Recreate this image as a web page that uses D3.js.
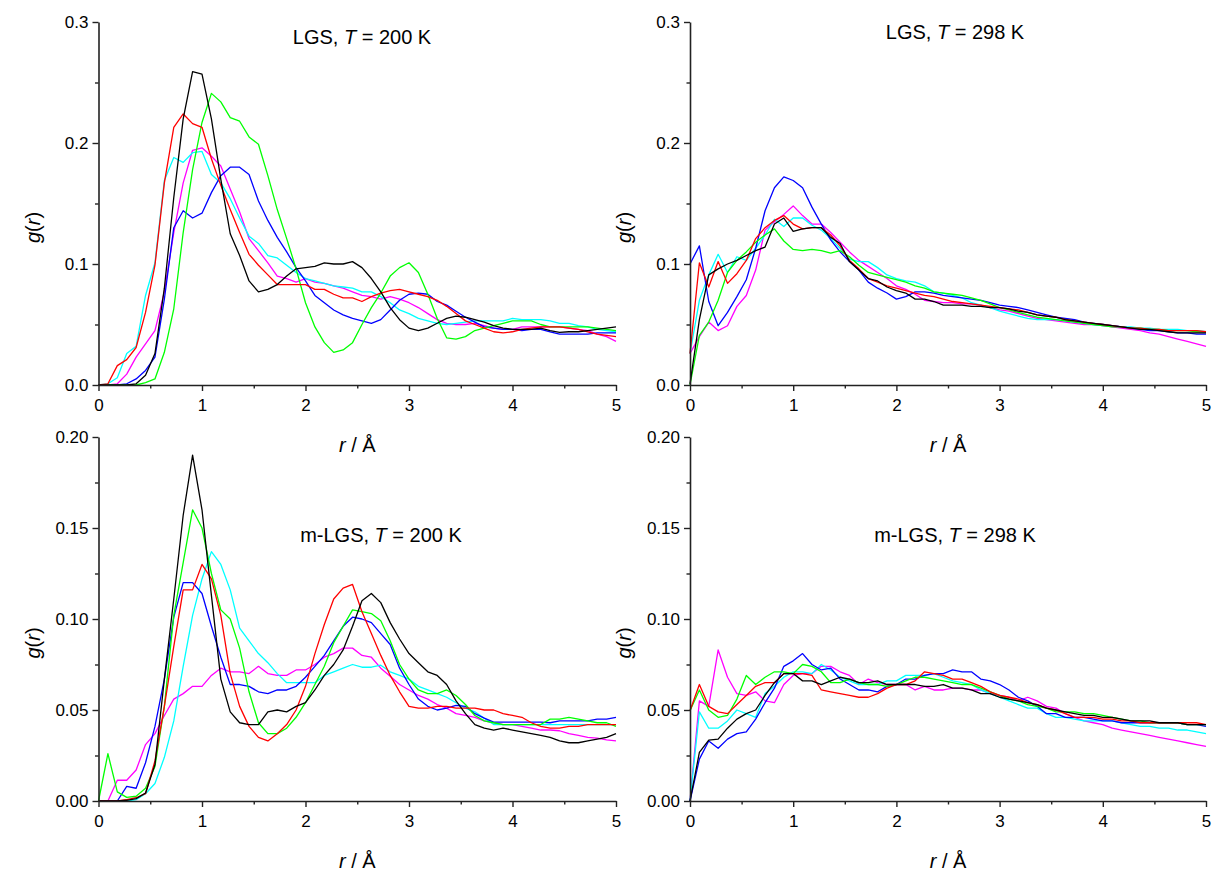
<!DOCTYPE html>
<html>
<head>
<meta charset="utf-8">
<script src="https://cdn.jsdelivr.net/npm/d3@7"></script>
<style>
  html, body { margin: 0; padding: 0; background: #fff; }
  svg { display: block; }
  text { font-family: "Liberation Sans", Arial, sans-serif; fill: #000; }
</style>
</head>
<body>
<svg id="chart" width="1216" height="874"></svg>
<script>
// r grid (Å)
const r = [0, 0.0909, 0.1818, 0.2727, 0.3636, 0.4545, 0.5455, 0.6364, 0.7273, 0.8182,
  0.9091, 1.0, 1.0909, 1.1818, 1.2727, 1.3636, 1.4545, 1.5455, 1.6364, 1.7273,
  1.8182, 1.9091, 2.0, 2.0909, 2.1818, 2.2727, 2.3636, 2.4545, 2.5455, 2.6364,
  2.7273, 2.8182, 2.9091, 3.0, 3.0909, 3.1818, 3.2727, 3.3636, 3.4545, 3.5455,
  3.6364, 3.7273, 3.8182, 3.9091, 4.0, 4.0909, 4.1818, 4.2727, 4.3636, 4.4545,
  4.5455, 4.6364, 4.7273, 4.8182, 4.9091, 5.0];

const seriesColors = ["#ff00ff", "#00ffff", "#0000ff", "#00ff00", "#ff0000", "#000000"];
const seriesNames = ["magenta", "cyan", "blue", "green", "red", "black"];

// ---- LGS, T = 200 K ----
const lgs200_black = [0,0,0,0,0.001,0.008,0.026,0.08,0.155,0.22,
  0.259,0.257,0.22,0.17,0.125,0.107,0.086,0.077,0.079,0.083,
  0.090,0.096,0.097,0.098,0.101,0.100,0.100,0.102,
  0.097,0.088,0.077,0.064,0.054,0.047,0.045,0.047,0.051,0.055,
  0.057,0.056,0.054,0.052,0.049,0.047,0.046,0.046,0.046,0.047,
  0.045,0.0435,0.044,0.044,0.045,0.046,0.047,0.048];
const lgs200_red = [0,0.001,0.016,0.021,0.031,0.060,0.099,0.167,0.213,0.224,
  0.216,0.213,0.187,0.165,0.145,0.126,0.108,0.099,0.091,0.083,
  0.083,0.083,0.083,0.079,0.079,0.075,0.072,0.072,
  0.069,0.073,0.076,0.078,0.079,0.077,0.075,0.073,0.070,0.065,
  0.059,0.053,0.050,0.047,0.044,0.043,0.044,0.046,0.047,0.048,
  0.048,0.048,0.047,0.046,0.044,0.042,0.041,0.040];
const lgs200_green = [0,0,0,0,0,0.002,0.005,0.027,0.063,0.126,
  0.178,0.217,0.241,0.234,0.221,0.218,0.205,0.199,0.173,0.145,
  0.121,0.096,0.068,0.048,0.035,0.027,0.029,0.035,
  0.050,0.064,0.076,0.090,0.097,0.101,0.093,0.075,0.055,0.039,
  0.038,0.040,0.045,0.047,0.049,0.051,0.053,0.053,0.053,0.050,
  0.048,0.048,0.048,0.048,0.048,0.047,0.046,0.045];
const lgs200_blue = [0,0,0,0.001,0.005,0.012,0.023,0.071,0.130,0.144,
  0.138,0.142,0.159,0.173,0.180,0.180,0.174,0.152,0.136,0.122,
  0.110,0.097,0.086,0.074,0.068,0.062,0.058,0.055,
  0.053,0.051,0.054,0.062,0.070,0.075,0.076,0.075,0.069,0.066,
  0.061,0.056,0.052,0.048,0.047,0.046,0.046,0.045,0.046,0.046,
  0.044,0.042,0.042,0.042,0.042,0.043,0.043,0.043];
const lgs200_cyan = [0,0.001,0.006,0.026,0.032,0.074,0.101,0.169,0.188,0.184,
  0.192,0.193,0.174,0.167,0.154,0.138,0.123,0.117,0.107,0.105,
  0.099,0.093,0.088,0.086,0.084,0.082,0.081,0.080,
  0.077,0.077,0.073,0.068,0.062,0.059,0.055,0.053,0.051,0.050,
  0.051,0.052,0.053,0.053,0.053,0.053,0.055,0.054,0.054,0.054,
  0.053,0.051,0.051,0.049,0.048,0.046,0.045,0.044];
const lgs200_magenta = [0,0,0.001,0.009,0.023,0.034,0.045,0.077,0.126,0.167,
  0.194,0.196,0.189,0.181,0.162,0.143,0.121,0.111,0.101,0.090,
  0.088,0.085,0.088,0.085,0.084,0.082,0.080,0.077,
  0.074,0.073,0.071,0.073,0.071,0.068,0.064,0.059,0.054,0.051,
  0.050,0.050,0.051,0.049,0.047,0.046,0.046,0.048,0.048,0.048,
  0.048,0.048,0.047,0.046,0.045,0.042,0.040,0.036];

// ---- LGS, T = 298 K ----
const lgs298_black = [0.001,0.054,0.091,0.096,0.100,0.103,0.107,0.111,0.114,0.133,
  0.138,0.127,0.129,0.130,0.130,0.122,0.117,0.102,0.095,0.088,
  0.086,0.081,0.078,0.076,0.071,0.071,0.069,0.066,
  0.066,0.066,0.065,0.065,0.064,0.064,0.063,0.061,0.060,0.058,
  0.057,0.056,0.054,0.053,0.052,0.051,0.050,0.049,0.048,0.047,
  0.046,0.046,0.045,0.044,0.043,0.043,0.043,0.043];
const lgs298_red = [0.026,0.101,0.081,0.102,0.084,0.092,0.103,0.121,0.130,0.136,
  0.140,0.133,0.129,0.130,0.130,0.124,0.115,0.103,0.096,0.088,
  0.085,0.082,0.080,0.078,0.076,0.074,0.073,0.071,
  0.069,0.068,0.067,0.066,0.065,0.064,0.063,0.062,0.060,0.058,
  0.057,0.056,0.054,0.053,0.052,0.051,0.050,0.049,0.048,0.047,
  0.047,0.046,0.046,0.045,0.045,0.045,0.045,0.044];
const lgs298_green = [0,0.041,0.052,0.070,0.093,0.103,0.110,0.118,0.124,0.129,
  0.119,0.112,0.111,0.112,0.111,0.109,0.111,0.106,0.099,0.093,
  0.091,0.089,0.087,0.085,0.082,0.080,0.077,0.076,
  0.075,0.074,0.072,0.070,0.067,0.064,0.062,0.060,0.058,0.056,
  0.055,0.054,0.053,0.052,0.051,0.050,0.049,0.048,0.048,0.047,
  0.047,0.046,0.046,0.045,0.045,0.045,0.044,0.044];
const lgs298_blue = [0.100,0.115,0.069,0.049,0.060,0.073,0.087,0.113,0.144,0.163,
  0.172,0.169,0.163,0.147,0.133,0.120,0.110,0.102,0.095,0.085,
  0.080,0.076,0.071,0.073,0.077,0.077,0.076,0.074,
  0.073,0.072,0.071,0.070,0.068,0.066,0.065,0.064,0.062,0.060,
  0.058,0.056,0.055,0.054,0.052,0.051,0.050,0.049,0.048,0.047,
  0.046,0.045,0.045,0.044,0.043,0.043,0.042,0.042];
const lgs298_cyan = [0.026,0.070,0.091,0.108,0.093,0.106,0.103,0.113,0.124,0.137,
  0.131,0.138,0.138,0.132,0.128,0.121,0.113,0.104,0.102,0.102,
  0.097,0.091,0.088,0.086,0.085,0.082,0.077,0.076,
  0.074,0.072,0.068,0.066,0.064,0.061,0.059,0.057,0.055,0.054,
  0.054,0.054,0.053,0.052,0.051,0.050,0.049,0.049,0.048,0.048,
  0.047,0.047,0.046,0.046,0.046,0.045,0.045,0.044];
const lgs298_magenta = [0.026,0.040,0.052,0.045,0.049,0.065,0.074,0.095,0.128,0.135,
  0.141,0.148,0.140,0.133,0.133,0.126,0.118,0.110,0.103,0.098,
  0.093,0.088,0.082,0.079,0.075,0.070,0.069,0.068,
  0.068,0.067,0.067,0.066,0.064,0.062,0.061,0.059,0.057,0.055,
  0.054,0.053,0.052,0.051,0.050,0.050,
  0.049,0.048,0.047,0.046,0.045,0.043,0.042,0.040,0.038,0.036,0.034,0.032];

// ---- m-LGS, T = 200 K ----
const mlgs200_black = [0,0,0,0.0004,0.0013,0.0044,0.020,0.067,0.111,0.157,
  0.190,0.160,0.113,0.067,0.049,0.043,0.042,0.042,0.049,0.050,
  0.049,0.052,0.054,0.061,0.069,0.075,0.083,0.096,
  0.110,0.114,0.109,0.098,0.089,0.081,0.076,0.071,0.069,0.064,
  0.055,0.048,0.042,0.040,0.039,0.040,0.039,0.038,0.037,0.036,
  0.035,0.033,0.032,0.032,0.033,0.034,0.035,0.037];
const mlgs200_red = [0,0,0,0.0007,0.0018,0.004,0.022,0.052,0.085,0.116,
  0.116,0.130,0.122,0.102,0.070,0.052,0.041,0.035,0.033,0.037,
  0.042,0.050,0.063,0.081,0.097,0.111,0.117,0.119,
  0.104,0.092,0.080,0.069,0.060,0.052,0.051,0.051,0.052,0.052,
  0.051,0.051,0.051,0.050,0.050,0.048,0.047,0.046,0.043,0.041,
  0.040,0.040,0.041,0.041,0.042,0.042,0.042,0.042];
const mlgs200_green = [0,0.026,0.005,0.002,0.0026,0.007,0.019,0.052,0.102,0.131,
  0.160,0.150,0.125,0.105,0.100,0.084,0.060,0.043,0.037,0.037,
  0.040,0.046,0.054,0.064,0.074,0.087,0.096,0.105,
  0.104,0.103,0.099,0.088,0.075,0.067,0.061,0.059,0.059,0.061,
  0.058,0.053,0.047,0.044,0.043,0.042,0.042,0.042,0.042,0.042,
  0.045,0.045,0.046,0.045,0.044,0.043,0.043,0.041];
const mlgs200_blue = [0,0,0,0.008,0.007,0.021,0.041,0.067,0.101,0.120,
  0.120,0.114,0.096,0.079,0.064,0.064,0.063,0.060,0.059,0.061,
  0.061,0.063,0.068,0.074,0.080,0.088,0.096,0.101,
  0.100,0.098,0.092,0.086,0.073,0.064,0.056,0.052,0.050,0.051,
  0.0525,0.052,0.048,0.0455,0.0433,0.0433,0.0433,0.0433,0.0433,0.0433,
  0.043,0.044,0.044,0.044,0.044,0.045,0.045,0.046];
const mlgs200_cyan = [0,0,0,0,0.0007,0.004,0.0096,0.024,0.044,0.074,
  0.102,0.122,0.137,0.130,0.116,0.095,0.088,0.081,0.076,0.070,
  0.065,0.065,0.065,0.065,0.069,0.071,0.073,0.075,
  0.0735,0.0735,0.0746,0.071,0.069,0.067,0.063,0.061,0.059,0.057,
  0.054,0.051,0.049,0.0455,0.042,0.042,0.042,0.042,0.042,0.042,
  0.042,0.042,0.042,0.042,0.042,0.042,0.042,0.042];
const mlgs200_magenta = [0,0,0.0114,0.0114,0.017,0.031,0.037,0.047,0.056,0.059,
  0.063,0.063,0.069,0.073,0.071,0.071,0.070,0.074,0.070,0.069,
  0.069,0.072,0.072,0.075,0.079,0.081,0.084,0.084,
  0.080,0.079,0.073,0.0685,0.064,0.061,0.058,0.056,0.053,0.051,
  0.048,0.047,0.046,0.044,0.043,0.042,0.042,0.041,0.040,0.039,
  0.039,0.0386,0.037,0.036,0.035,0.0345,0.0336,0.033];

// ---- m-LGS, T = 298 K ----
const mlgs298_black = [0,0.0267,0.0335,0.034,0.040,0.045,0.048,0.050,0.058,0.065,
  0.070,0.070,0.066,0.066,0.064,0.066,0.068,0.067,0.065,0.065,
  0.066,0.064,0.064,0.064,0.064,0.063,0.063,0.064,
  0.062,0.062,0.061,0.059,0.059,0.057,0.056,0.055,0.054,0.053,
  0.051,0.050,0.049,0.048,0.047,0.047,0.046,0.046,0.045,0.044,
  0.044,0.044,0.043,0.043,0.043,0.042,0.042,0.042];
const mlgs298_red = [0.0496,0.064,0.052,0.049,0.048,0.053,0.058,0.063,0.065,0.065,
  0.070,0.070,0.070,0.069,0.061,0.060,0.059,0.058,0.057,0.057,
  0.059,0.062,0.064,0.064,0.066,0.071,0.070,0.069,
  0.067,0.067,0.065,0.063,0.060,0.058,0.057,0.056,0.054,0.053,
  0.051,0.050,0.048,0.046,0.046,0.046,0.045,0.045,0.044,0.044,
  0.043,0.043,0.043,0.043,0.043,0.043,0.043,0.042];
const mlgs298_green = [0.0496,0.061,0.050,0.046,0.047,0.056,0.069,0.064,0.068,0.071,
  0.071,0.070,0.075,0.074,0.071,0.065,0.065,0.067,0.065,0.064,
  0.064,0.063,0.064,0.066,0.068,0.068,0.067,0.066,
  0.065,0.064,0.064,0.062,0.060,0.058,0.056,0.055,0.053,0.052,
  0.051,0.049,0.049,0.049,0.048,0.048,0.047,0.046,0.045,0.044,
  0.044,0.043,0.043,0.043,0.043,0.042,0.042,0.042];
const mlgs298_blue = [0,0.023,0.033,0.029,0.034,0.037,0.038,0.045,0.054,0.062,
  0.074,0.077,0.081,0.075,0.072,0.073,0.067,0.064,0.061,0.061,
  0.060,0.063,0.064,0.067,0.067,0.069,0.070,0.070,
  0.072,0.071,0.071,0.067,0.066,0.064,0.061,0.057,0.055,0.052,
  0.048,0.048,0.046,0.046,0.046,0.045,0.044,0.044,0.043,0.043,
  0.043,0.043,0.043,0.043,0.043,0.042,0.042,0.041];
const mlgs298_cyan = [0,0.049,0.040,0.040,0.044,0.050,0.048,0.046,0.059,0.063,
  0.068,0.071,0.071,0.070,0.075,0.072,0.068,0.066,0.064,0.064,
  0.064,0.066,0.066,0.069,0.069,0.069,0.070,0.068,
  0.066,0.065,0.064,0.061,0.059,0.057,0.055,0.053,0.051,0.051,
  0.048,0.046,0.046,0.045,0.044,0.044,0.044,0.044,0.043,0.042,
  0.041,0.041,0.040,0.040,0.039,0.039,0.038,0.037];
const mlgs298_magenta = [0,0.055,0.052,0.083,0.068,0.059,0.058,0.060,0.055,0.054,
  0.064,0.069,0.070,0.070,0.074,0.074,0.071,0.069,0.064,0.067,
  0.065,0.064,0.064,0.064,0.061,0.063,0.061,0.061,
  0.062,0.062,0.061,0.061,0.059,0.058,0.057,0.055,0.057,0.055,
  0.052,0.051,0.048,0.046,0.044,0.043,0.042,0.040,0.039,0.038,
  0.037,0.036,0.035,0.034,0.033,0.032,0.031,0.030];

// tick labels
const xTickValues = [0, 1, 2, 3, 4, 5];
const xMinorValues = [0.5, 1.5, 2.5, 3.5, 4.5];
const yTicksTop = [0, 0.1, 0.2, 0.3];
const yMinorTop = [0.05, 0.15, 0.25];
const yTicksBottom = [0, 0.05, 0.1, 0.15, 0.2];
const yMinorBottom = [0.025, 0.075, 0.125, 0.175];

const panels = [
  { pre: "LGS, ", temp: " = 200 K", series: [lgs200_magenta, lgs200_cyan, lgs200_blue, lgs200_green, lgs200_red, lgs200_black],
    x0: 98.5, x1: 616, yb: 385, yt: 22, ymax: 0.3, major: yTicksTop, minor: yMinorTop, fmt: ".1f",
    tx: 362, ty: 44 },
  { pre: "LGS, ", temp: " = 298 K", series: [lgs298_magenta, lgs298_cyan, lgs298_blue, lgs298_green, lgs298_red, lgs298_black],
    x0: 690, x1: 1206, yb: 385, yt: 22, ymax: 0.3, major: yTicksTop, minor: yMinorTop, fmt: ".1f",
    tx: 955, ty: 39 },
  { pre: "m-LGS, ", temp: " = 200 K", series: [mlgs200_magenta, mlgs200_cyan, mlgs200_blue, mlgs200_green, mlgs200_red, mlgs200_black],
    x0: 98.5, x1: 616, yb: 801, yt: 437, ymax: 0.2, major: yTicksBottom, minor: yMinorBottom, fmt: ".2f",
    tx: 381, ty: 542 },
  { pre: "m-LGS, ", temp: " = 298 K", series: [mlgs298_magenta, mlgs298_cyan, mlgs298_blue, mlgs298_green, mlgs298_red, mlgs298_black],
    x0: 690, x1: 1206, yb: 801, yt: 437, ymax: 0.2, major: yTicksBottom, minor: yMinorBottom, fmt: ".2f",
    tx: 955, ty: 542 }
];

const svg = d3.select("#chart");
const axisColor = "#222";

panels.forEach(p => {
  const x = d3.scaleLinear().domain([0, 5]).range([p.x0, p.x1]);
  const y = d3.scaleLinear().domain([0, p.ymax]).range([p.yb, p.yt]);
  const g = svg.append("g");

  // lines
  const line = d3.line().x((d, i) => x(r[i])).y(d => y(d));
  p.series.forEach((s, k) => {
    g.append("path").datum(s)
      .attr("fill", "none")
      .attr("stroke", seriesColors[k])
      .attr("stroke-width", 1.3)
      .attr("stroke-linejoin", "round")
      .attr("d", line);
  });

  // x axis
  const gx = g.append("g").attr("transform", `translate(0,${p.yb})`)
    .call(d3.axisBottom(x).tickValues(xTickValues).tickSize(6).tickSizeOuter(0).tickPadding(8).tickFormat(d3.format("d")));
  const gxm = g.append("g").attr("transform", `translate(0,${p.yb})`)
    .call(d3.axisBottom(x).tickValues(xMinorValues).tickSize(3.5).tickSizeOuter(0).tickFormat(""));
  gxm.select(".domain").remove();

  // y axis
  const gy = g.append("g").attr("transform", `translate(${p.x0},0)`)
    .call(d3.axisLeft(y).tickValues(p.major).tickSize(6).tickSizeOuter(0).tickPadding(4).tickFormat(d3.format(p.fmt)));
  const gym = g.append("g").attr("transform", `translate(${p.x0},0)`)
    .call(d3.axisLeft(y).tickValues(p.minor).tickSize(3.5).tickSizeOuter(0).tickFormat(""));
  gym.select(".domain").remove();

  [gx, gxm, gy, gym].forEach(a => {
    a.selectAll(".domain").attr("stroke", axisColor).attr("stroke-width", 1.6);
    a.selectAll(".tick line").attr("stroke", axisColor).attr("stroke-width", 1.4);
    a.selectAll(".tick text").attr("font-size", 17).attr("font-family", '"Liberation Sans", Arial, sans-serif').attr("fill", "#000");
  });

  // x-axis title
  const xt = g.append("text")
    .attr("x", (p.x0 + p.x1) / 2).attr("y", p.yb + 67)
    .attr("text-anchor", "middle").attr("font-size", 20);
  xt.append("tspan").attr("font-style", "italic").text("r");
  xt.append("tspan").text(" / Å");

  // y-axis title
  const yc = (p.yt + p.yb) / 2 + 24;
  const yt = g.append("text")
    .attr("transform", `translate(${p.x0 - 59},${yc}) rotate(-90)`)
    .attr("text-anchor", "middle").attr("font-size", 20);
  yt.append("tspan").attr("font-style", "italic").text("g");
  yt.append("tspan").text("(");
  yt.append("tspan").attr("font-style", "italic").text("r");
  yt.append("tspan").text(")");

  // panel title
  const tt = g.append("text").attr("x", p.tx).attr("y", p.ty)
    .attr("text-anchor", "middle").attr("font-size", 20);
  tt.append("tspan").text(p.pre);
  tt.append("tspan").attr("font-style", "italic").text("T");
  tt.append("tspan").text(p.temp);
});
</script>
</body>
</html>
